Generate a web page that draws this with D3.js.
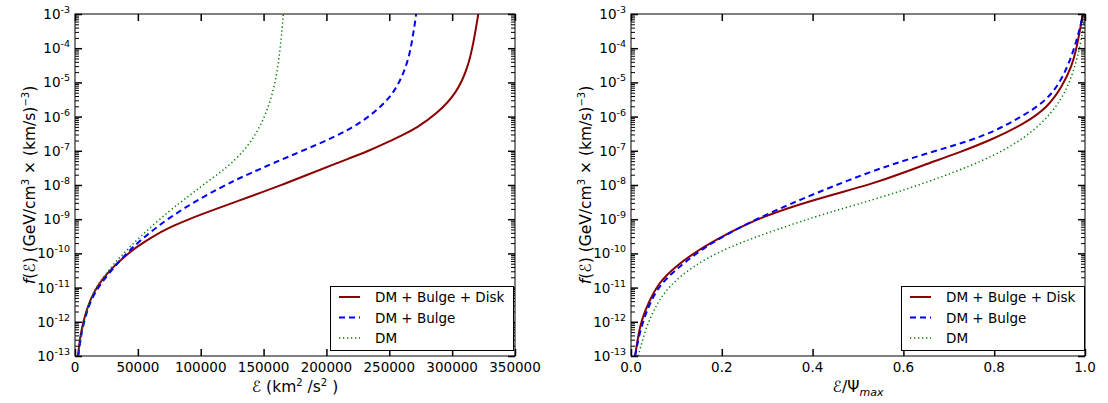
<!DOCTYPE html>
<html>
<head>
<meta charset="utf-8">
<script src="https://cdn.jsdelivr.net/npm/d3@7"></script>
<style>
  body { margin: 0; background: #fff; }
  text { font-family: "DejaVu Sans", sans-serif; fill: #000; }
  .tick line { stroke: #000; }
</style>
</head>
<body>
<div id="chart"></div>
<script>
// figure size
var width = 1108,
    height = 403;

// left panel: energy in km^2/s^2, log10 of f
var leftTicks = [0, 50000, 100000, 150000, 200000, 250000, 300000, 350000];

var diskE = [2400, 4000, 6600, 10000, 15900, 22000, 30500, 40000, 49000, 62000, 75600, 90000, 102000,
             115000, 128600, 149800, 165700, 181600, 208100, 234700, 248000, 260000, 271800, 287700,
             303600, 312900, 317400, 320800];
var diskF = [-13, -12.45, -12.0, -11.55, -11.07, -10.74, -10.39, -10.07, -9.81, -9.5, -9.23, -9.01, -8.84,
             -8.66, -8.48, -8.2, -7.98, -7.75, -7.36, -6.99, -6.76, -6.55, -6.33, -5.92,
             -5.32, -4.54, -3.76, -3.0];

var bulgeE = [2600, 5300, 11900, 22500, 35800, 51700, 75600, 102000, 128600, 144400, 155100, 181600,
              208100, 226700, 242600, 253200, 261200, 266500, 269100, 271000, 271300];
var bulgeF = [-13, -12.24, -11.36, -10.78, -10.19, -9.61, -8.93, -8.34, -7.83, -7.58, -7.4, -6.99,
              -6.57, -6.2, -5.74, -5.32, -4.77, -4.15, -3.56, -3.13, -3.0];

var dmE = [2600, 5300, 11900, 22500, 35800, 51700, 75600, 91500, 102000, 115300, 123300, 136000,
           147200, 155100, 160400, 163100, 164900, 165700];
var dmF = [-13, -12.24, -11.27, -10.68, -10.1, -9.51, -8.73, -8.3, -7.99, -7.64, -7.4, -6.95,
           -6.32, -5.61, -4.83, -4.05, -3.37, -3.0];

// right panel: E / Psi_max
var rightTicks = [0, 0.2, 0.4, 0.6, 0.8, 1.0];

var diskR = [0.009, 0.02, 0.038, 0.06, 0.097, 0.148, 0.207, 0.28, 0.391, 0.537, 0.596, 0.648, 0.721,
             0.794, 0.868, 0.919, 0.949, 0.971, 0.982, 0.989, 0.994, 0.996];
var diskRF = [-13, -12.04, -11.46, -10.87, -10.39, -9.9, -9.46, -8.97, -8.47, -7.95, -7.66, -7.4, -7.06,
              -6.68, -6.2, -5.71, -5.13, -4.54, -3.96, -3.47, -3.08, -3.0];

var bulgeR = [0.009, 0.02, 0.038, 0.06, 0.097, 0.148, 0.207, 0.28, 0.37, 0.515, 0.648, 0.78, 0.868,
              0.927, 0.963, 0.982, 0.993, 0.996];
var bulgeRF = [-13, -12.24, -11.56, -10.97, -10.49, -9.95, -9.46, -8.97, -8.44, -7.66, -7.08, -6.59, -5.95,
               -5.42, -4.54, -3.76, -3.18, -3.0];

var dmR = [0.016, 0.031, 0.053, 0.082, 0.134, 0.207, 0.317, 0.427, 0.565, 0.721, 0.827, 0.901, 0.949,
           0.971, 0.986, 0.994, 0.999, 1.0];
var dmRF = [-13, -12.24, -11.56, -10.97, -10.39, -9.85, -9.32, -8.83, -8.32, -7.6, -6.98, -6.29, -5.51,
            -4.83, -4.15, -3.56, -3.18, -3.05];

var legendNames = ["DM + Bulge + Disk", "DM + Bulge", "DM"];
var decades = [-13, -12, -11, -10, -9, -8, -7, -6, -5, -4, -3];

// line styles for the three models
var styles = [
    { color: "#8b0000", dash: null, width: 2 },
    { color: "#0000ff", dash: "6,4", width: 2 },
    { color: "#008000", dash: "1.3,2.7", width: 1.5 }
];

var svg = d3.select("#chart")
    .append("svg")
    .attr("width", width)
    .attr("height", height);

function zip(xs, ys) {
    return xs.map(function(x, i) { return { x: x, f: ys[i] }; });
}

function panel(opt) {
    var x = d3.scaleLinear().domain(opt.domain).range([opt.left, opt.right]);
    var y = d3.scaleLog().domain([1e-13, 1e-3]).range([356, 14]);

    var minors = [];
    decades.forEach(function(p) {
        if (p == -3) return;
        for (var m = 2; m < 10; m++) minors.push(m * Math.pow(10, p));
    });
    var majors = decades.map(function(p) { return Math.pow(10, p); });

    var g = svg.append("g");

    // clip so curves stop at the frame
    var clipId = "clip" + opt.left;
    svg.append("clipPath").attr("id", clipId)
        .append("rect")
        .attr("x", opt.left).attr("y", 14)
        .attr("width", opt.right - opt.left).attr("height", 342);

    // curves
    var line = d3.line()
        .x(function(d) { return x(d.x); })
        .y(function(d) { return y(Math.pow(10, d.f)); })
        .curve(d3.curveBasis);

    var curves = g.append("g").attr("clip-path", "url(#" + clipId + ")");
    opt.series.forEach(function(s, i) {
        curves.append("path")
            .datum(s)
            .attr("fill", "none")
            .attr("stroke", styles[i].color)
            .attr("stroke-width", styles[i].width)
            .attr("stroke-dasharray", styles[i].dash)
            .attr("d", line);
    });

    // ticks, all pointing inwards
    function ticks(axis, tr, vals, size, w) {
        var a = g.append("g")
            .attr("transform", tr)
            .call(axis.tickValues(vals).tickSize(-size).tickSizeOuter(0).tickFormat(""));
        a.select(".domain").remove();
        a.selectAll(".tick line").attr("stroke-width", w);
    }
    ticks(d3.axisLeft(y), "translate(" + opt.left + ",0)", majors, 7, 1.5);
    ticks(d3.axisLeft(y), "translate(" + opt.left + ",0)", minors, 4, 1);
    ticks(d3.axisRight(y), "translate(" + opt.right + ",0)", majors, 7, 1.5);
    ticks(d3.axisRight(y), "translate(" + opt.right + ",0)", minors, 4, 1);
    ticks(d3.axisBottom(x), "translate(0,356)", opt.ticks, 7, 1.5);
    ticks(d3.axisTop(x), "translate(0,14)", opt.ticks, 7, 1.5);

    // frame
    g.append("rect")
        .attr("x", opt.left).attr("y", 14)
        .attr("width", opt.right - opt.left).attr("height", 342)
        .attr("fill", "none")
        .attr("stroke", "#000")
        .attr("stroke-width", 1);

    // y tick labels 10^n
    majors.forEach(function(v, i) {
        var t = g.append("text")
            .attr("x", opt.left - 5)
            .attr("y", y(v) + 5)
            .attr("text-anchor", "end")
            .style("font-size", "13.5px");
        t.append("tspan").text("10");
        t.append("tspan").attr("dy", -6).style("font-size", "9.5px").text(String(decades[i]));
    });

    // x tick labels
    opt.ticks.forEach(function(v) {
        g.append("text")
            .attr("x", x(v))
            .attr("y", 372)
            .attr("text-anchor", "middle")
            .style("font-size", "13.5px")
            .text(opt.fmt(v));
    });

    // y label
    var yl = g.append("text")
        .attr("transform", "translate(" + (opt.left - 40) + ",185) rotate(-90)")
        .attr("text-anchor", "middle")
        .style("font-size", "15.5px");
    yl.append("tspan").style("font-style", "italic").text("f");
    yl.append("tspan").text("(ℰ) (GeV/cm");
    yl.append("tspan").attr("dy", -6).style("font-size", "10px").text("3");
    yl.append("tspan").attr("dy", 6).text(" × (km/s)");
    yl.append("tspan").attr("dy", -6).style("font-size", "10px").text("−3");
    yl.append("tspan").attr("dy", 6).text(")");

    // x label
    var xl = g.append("text")
        .attr("x", (opt.left + opt.right) / 2)
        .attr("y", 392)
        .attr("text-anchor", "middle")
        .style("font-size", "15.5px");
    opt.xlabel(xl);

    // legend
    var lx = opt.legendX, ly = 286;
    g.append("rect")
        .attr("x", lx + 0.5).attr("y", ly + 0.5)
        .attr("width", 183).attr("height", 64)
        .attr("fill", "#fff")
        .attr("stroke", "#000");
    legendNames.forEach(function(name, i) {
        var yy = ly + 11 + i * 20.5;
        g.append("line")
            .attr("x1", lx + 9).attr("x2", lx + 30)
            .attr("y1", yy).attr("y2", yy)
            .attr("stroke", styles[i].color)
            .attr("stroke-width", styles[i].width)
            .attr("stroke-dasharray", styles[i].dash);
        g.append("text")
            .attr("x", lx + 45)
            .attr("y", yy + 5)
            .style("font-size", "13.5px")
            .text(name);
    });
}

panel({
    left: 75, right: 515,
    domain: [0, 350000],
    ticks: leftTicks,
    fmt: function(v) { return String(v); },
    series: [zip(diskE, diskF), zip(bulgeE, bulgeF), zip(dmE, dmF)],
    legendX: 330,
    xlabel: function(t) {
        t.append("tspan").text("ℰ (km");
        t.append("tspan").attr("dy", -6).style("font-size", "10px").text("2");
        t.append("tspan").attr("dy", 6).text(" /s");
        t.append("tspan").attr("dy", -6).style("font-size", "10px").text("2");
        t.append("tspan").attr("dy", 6).text(" )");
    }
});

panel({
    left: 631, right: 1085,
    domain: [0, 1],
    ticks: rightTicks,
    fmt: d3.format(".1f"),
    series: [zip(diskR, diskRF), zip(bulgeR, bulgeRF), zip(dmR, dmRF)],
    legendX: 901,
    xlabel: function(t) {
        t.append("tspan").text("ℰ/Ψ");
        t.append("tspan").attr("dy", 4).style("font-size", "11px").style("font-style", "italic").text("max");
    }
});
</script>
</body>
</html>
